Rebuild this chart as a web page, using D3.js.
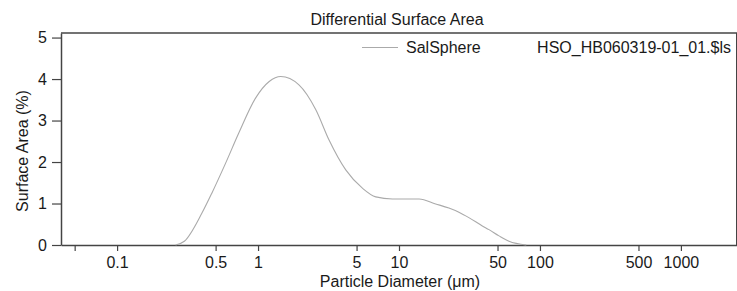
<!DOCTYPE html>
<html>
<head>
<meta charset="utf-8">
<script src="https://cdn.jsdelivr.net/npm/d3@7"></script>
<style>
  body { margin: 0; background: #fff; overflow: hidden; }
  text { font-family: "Liberation Sans", Arial, sans-serif; fill: #1a1a1a; }
</style>
</head>
<body>
<svg id="chart" width="737" height="291"></svg>
<script>
// particle diameter (um) and differential surface area (%)
const diameters = [0.26, 0.30, 0.40, 0.47, 0.59, 0.73, 0.96, 1.2, 1.45, 1.95, 2.57, 3.19, 4.19, 5.5, 6.84, 8.97, 13.9, 18.2, 22.6, 26.6, 31.3, 39, 43.5, 51.2, 60.3, 80];
const surfaceArea = [0, 0.09, 0.77, 1.25, 1.98, 2.70, 3.54, 3.94, 4.06, 3.86, 3.26, 2.53, 1.81, 1.37, 1.16, 1.11, 1.11, 0.99, 0.89, 0.79, 0.66, 0.46, 0.37, 0.22, 0.09, 0];

const xTicks = [0.05, 0.1, 0.5, 1, 5, 10, 50, 100, 500, 1000];
const xTickLabels = ["", "0.1", "0.5", "1", "5", "10", "50", "100", "500", "1000"];
const yTicks = [0, 1, 2, 3, 4, 5];

const seriesName = "SalSphere";
const fileName = "HSO_HB060319-01_01.$ls";

const svg = d3.select("#chart");
const margin = {top: 33, right: 0, bottom: 46, left: 61};
const width = +svg.attr("width") - margin.left - margin.right;
const height = +svg.attr("height") - margin.top - margin.bottom;

const x = d3.scaleLog()
    .domain([0.04, 2500])
    .range([margin.left, margin.left + width]);

const y = d3.scaleLinear()
    .domain([0, 5.11])
    .range([margin.top + height, margin.top]);

const axisColor = "#444";

// x axis
const gx = svg.append("g")
    .attr("transform", "translate(0," + (margin.top + height) + ")")
    .call(d3.axisBottom(x)
      .tickValues(xTicks)
      .tickFormat((d, i) => xTickLabels[i])
      .tickSizeInner(6)
      .tickSizeOuter(0)
      .tickPadding(6));
gx.select(".domain").attr("stroke", axisColor).attr("stroke-width", 1.5);
gx.selectAll(".tick line").attr("stroke", axisColor).attr("stroke-width", 1.2);
gx.selectAll(".tick text").attr("font-size", 16).style("fill", "#1a1a1a");

// y axis
const gy = svg.append("g")
    .attr("transform", "translate(" + margin.left + ",0)")
    .call(d3.axisLeft(y)
      .tickValues(yTicks)
      .tickFormat(d3.format("d"))
      .tickSizeInner(9)
      .tickSizeOuter(0)
      .tickPadding(5));
gy.select(".domain").attr("stroke", axisColor).attr("stroke-width", 1.5);
gy.selectAll(".tick line").attr("stroke", axisColor).attr("stroke-width", 1.2);
gy.selectAll(".tick text").attr("font-size", 16).style("fill", "#1a1a1a");

// top and right frame
svg.append("line")
    .attr("x1", margin.left).attr("x2", margin.left + width)
    .attr("y1", margin.top).attr("y2", margin.top)
    .attr("stroke", axisColor).attr("stroke-width", 1.5);
svg.append("line")
    .attr("x1", margin.left + width - 0.5).attr("x2", margin.left + width - 0.5)
    .attr("y1", margin.top).attr("y2", margin.top + height)
    .attr("stroke", axisColor).attr("stroke-width", 1);

// curve
const data = diameters.map((d, i) => ({d: d, v: surfaceArea[i]}));
const line = d3.line()
    .x(p => x(p.d))
    .y(p => y(p.v))
    .curve(d3.curveMonotoneX);

svg.append("path")
    .datum(data)
    .attr("fill", "none")
    .attr("stroke", "#aaaaaa")
    .attr("stroke-width", 1.1)
    .attr("d", line);

// title
svg.append("text")
    .attr("x", 397)
    .attr("y", 25)
    .attr("text-anchor", "middle")
    .attr("font-size", 16)
    .text("Differential Surface Area");

// legend
svg.append("line")
    .attr("x1", 362).attr("x2", 398)
    .attr("y1", 47.5).attr("y2", 47.5)
    .attr("stroke", "#aaaaaa").attr("stroke-width", 1.1);
svg.append("text")
    .attr("x", 406)
    .attr("y", 53)
    .attr("font-size", 16)
    .text(seriesName);
svg.append("text")
    .attr("x", 731)
    .attr("y", 53)
    .attr("text-anchor", "end")
    .attr("font-size", 16)
    .text(fileName);

// axis titles
svg.append("text")
    .attr("x", 400)
    .attr("y", 287)
    .attr("text-anchor", "middle")
    .attr("font-size", 16)
    .text("Particle Diameter (\u03bcm)");

svg.append("text")
    .attr("transform", "translate(28,151) rotate(-90)")
    .attr("text-anchor", "middle")
    .attr("font-size", 16)
    .text("Surface Area (%)");
</script>
</body>
</html>
